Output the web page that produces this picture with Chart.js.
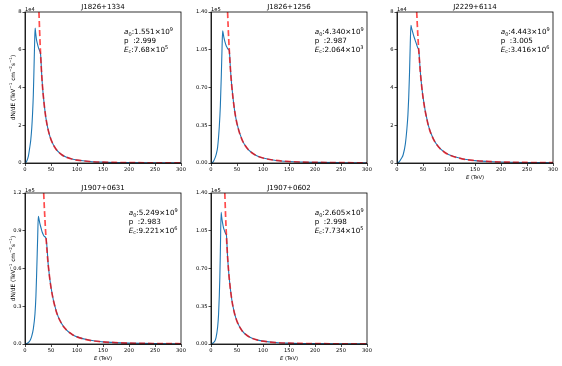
<!DOCTYPE html>
<html>
<head>
<meta charset="utf-8">
<script src="https://cdn.jsdelivr.net/npm/chart.js@4.4.1/dist/chart.umd.min.js"></script>
<style>
  body { margin: 0; background: #fff; }
  #fig { position: relative; width: 562px; height: 366px; overflow: hidden; }
  canvas { position: absolute; }
</style>
</head>
<body>
<div id="fig"></div>
<script>
const FONT = '"DejaVu Sans", sans-serif';

const panelNames = ["J1826+1334", "J1826+1256", "J2229+6114", "J1907+0631", "J1907+0602"];
const offsetTexts = ["1e4", "1e5", "1e4", "1e5", "1e5"];
const xTicks = [0, 50, 100, 150, 200, 250, 300];

// y ticks (values already divided by the offset)
const yTicksA = [0, 2, 4, 6, 8];
const yLabelsA = ["0", "2", "4", "6", "8"];
const yTicksB = [0, 0.35, 0.7, 1.05, 1.4];
const yLabelsB = ["0.00", "0.35", "0.70", "1.05", "1.40"];
const yTicksC = [0, 0.3, 0.6, 0.9, 1.2];
const yLabelsC = ["0.0", "0.3", "0.6", "0.9", "1.2"];

// fit parameters printed in each panel
const a0Vals = ["1.551", "4.340", "4.443", "5.249", "2.605"];
const pVals = ["2.999", "2.987", "3.005", "2.983", "2.998"];
const ecVals = ["7.68", "2.064", "3.416", "9.221", "7.734"];
const ecExps = ["5", "3", "6", "6", "5"];

// J1826+1334 (x1e4)
const blueE1 = [0, 3, 6.4, 9, 11, 13, 14.5, 16, 17.3, 18.6, 19.5, 20.5, 22, 24, 26, 28, 30, 32.5, 35, 40, 45, 50, 60, 70, 80, 90, 100, 125, 150, 175, 200, 250, 300];
const blueY1 = [0, 0.08, 0.35, 0.8, 1.2, 1.85, 2.6, 3.6, 5.0, 6.45, 7.15, 6.9, 6.55, 6.3, 6.1, 5.95, 5.74, 4.52, 3.62, 2.42, 1.70, 1.24, 0.72, 0.45, 0.30, 0.21, 0.155, 0.079, 0.046, 0.029, 0.019, 0.010, 0.006];
const redE1 = [26.85, 28, 30, 32.5, 35, 40, 45, 50, 60, 70, 80, 90, 100, 125, 150, 175, 200, 250, 300];
const redY1 = [8.0, 7.07, 5.74, 4.52, 3.62, 2.42, 1.70, 1.24, 0.718, 0.452, 0.303, 0.213, 0.155, 0.079, 0.046, 0.029, 0.019, 0.0099, 0.0057];

// J1826+1256 (x1e5)
const blueE2 = [0, 4, 8, 10, 12.8, 16, 18, 19.9, 21.2, 22.4, 23.5, 25, 27, 29, 31, 33, 35.2, 37.5, 40, 45, 50, 60, 70, 80, 90, 100, 125, 150, 175, 200, 250, 300];
const blueY2 = [0, 0.01, 0.05, 0.08, 0.15, 0.34, 0.53, 0.82, 1.06, 1.225, 1.2, 1.16, 1.12, 1.09, 1.07, 1.055, 1.04, 0.862, 0.711, 0.50, 0.365, 0.212, 0.134, 0.090, 0.063, 0.046, 0.0237, 0.0137, 0.0087, 0.0058, 0.0030, 0.0017];
const redE2 = [31.9, 33, 35.2, 37.5, 40, 45, 50, 60, 70, 80, 90, 100, 125, 150, 175, 200, 250, 300];
const redY2 = [1.40, 1.263, 1.042, 0.862, 0.711, 0.50, 0.365, 0.212, 0.134, 0.090, 0.063, 0.046, 0.0237, 0.0137, 0.0087, 0.0058, 0.0030, 0.0017];

// J2229+6114 (x1e4)
const blueE3 = [0, 4, 8, 12, 16, 19, 21, 22.5, 24, 25.5, 26.8, 28, 30, 32, 35, 38, 40, 41.75, 45, 50, 60, 70, 80, 90, 100, 125, 150, 175, 200, 250, 300];
const blueY3 = [0, 0.06, 0.22, 0.45, 1.0, 1.8, 2.55, 3.45, 4.7, 6.3, 7.3, 7.15, 6.95, 6.75, 6.5, 6.25, 6.1, 6.0, 4.78, 3.49, 2.02, 1.27, 0.85, 0.60, 0.434, 0.222, 0.128, 0.081, 0.054, 0.028, 0.016];
const redE3 = [37.9, 39, 40, 41.75, 45, 50, 60, 70, 80, 90, 100, 125, 150, 175, 200, 250, 300];
const redY3 = [8.0, 7.35, 6.815, 6.0, 4.783, 3.485, 2.015, 1.268, 0.849, 0.596, 0.434, 0.222, 0.128, 0.081, 0.054, 0.028, 0.016];

// J1907+0631 (x1e5)
const blueE4 = [0, 6, 10, 12.8, 16, 19.2, 21, 22.4, 23.5, 24.4, 25.6, 27, 29, 31, 33, 35, 37, 40.5, 45, 50, 60, 70, 80, 90, 100, 125, 150, 175, 200, 250, 300];
const blueY4 = [0, 0.01, 0.03, 0.06, 0.12, 0.24, 0.38, 0.56, 0.72, 0.85, 1.015, 0.99, 0.95, 0.92, 0.89, 0.87, 0.855, 0.84, 0.615, 0.449, 0.2605, 0.1645, 0.110, 0.078, 0.0567, 0.0292, 0.0169, 0.0107, 0.0072, 0.0037, 0.0021];
const redE4 = [35.95, 37, 38, 39, 40.5, 45, 50, 60, 70, 80, 90, 100, 125, 150, 175, 200, 250, 300];
const redY4 = [1.2, 1.10, 1.018, 0.94, 0.84, 0.615, 0.449, 0.2605, 0.1645, 0.110, 0.078, 0.0567, 0.0292, 0.0169, 0.0107, 0.0072, 0.0037, 0.0021];

// J1907+0602 (x1e5)
const blueE5 = [0, 4, 6.5, 9.7, 12.8, 14.5, 16, 17, 18, 19.5, 20.5, 22, 24, 26, 28, 29.6, 32, 35, 40, 45, 50, 60, 70, 80, 90, 100, 125, 150, 175, 200, 250, 300];
const blueY5 = [0, 0.01, 0.02, 0.06, 0.16, 0.27, 0.45, 0.62, 0.86, 1.22, 1.18, 1.13, 1.08, 1.05, 1.025, 1.01, 0.80, 0.612, 0.410, 0.288, 0.210, 0.1216, 0.0766, 0.0513, 0.0361, 0.0263, 0.0135, 0.0078, 0.0049, 0.0033, 0.0017, 0.0010];
const redE5 = [26.55, 28, 29.6, 32, 35, 40, 45, 50, 60, 70, 80, 90, 100, 125, 150, 175, 200, 250, 300];
const redY5 = [1.40, 1.195, 1.01, 0.80, 0.612, 0.410, 0.288, 0.210, 0.1216, 0.0766, 0.0513, 0.0361, 0.0263, 0.0135, 0.0078, 0.0049, 0.0033, 0.0017, 0.0010];

const blueEs = [blueE1, blueE2, blueE3, blueE4, blueE5];
const blueYs = [blueY1, blueY2, blueY3, blueY4, blueY5];
const redEs = [redE1, redE2, redE3, redE4, redE5];
const redYs = [redY1, redY2, redY3, redY4, redY5];
const yMaxes = [8, 1.4, 8, 1.2, 1.4];
const yTickSets = [yTicksA, yTicksB, yTicksA, yTicksC, yTicksB];
const yLabelSets = [yLabelsA, yLabelsB, yLabelsA, yLabelsC, yLabelsB];

// layout of the 2x3 grid
const canvasLeft = [0, 186, 372, 0, 186];
const canvasTop = [0, 0, 0, 181, 181];
const annotFrac = [0.635, 0.665, 0.665, 0.665, 0.665];

const toPts = (xs, ys) => xs.map((x, k) => ({ x: x, y: ys[k] }));

function richText(ctx, parts, x, y, size) {
  parts.forEach(([t, kind]) => {
    let fs = size, dy = 0, style = "";
    if (kind === "sub") { fs = size * 0.7; dy = size * 0.25; }
    if (kind === "sup") { fs = size * 0.7; dy = -size * 0.42; }
    if (kind === "i") style = "italic ";
    ctx.font = `${style}${fs}px ${FONT}`;
    ctx.fillText(t, x, y + dy);
    x += ctx.measureText(t).width;
  });
}

const panelText = {
  id: "panelText",
  afterDraw(chart, args, opts) {
    const i = opts.i;
    const { ctx, chartArea: a } = chart;
    ctx.save();
    // frame
    ctx.strokeStyle = "#000";
    ctx.lineWidth = 0.8;
    ctx.strokeRect(a.left, a.top, a.right - a.left, a.bottom - a.top);
    ctx.fillStyle = "#000";
    // title
    ctx.font = `7px ${FONT}`;
    ctx.textAlign = "center";
    ctx.textBaseline = "alphabetic";
    ctx.fillText(panelNames[i], (a.left + a.right) / 2, a.top - 3.5);
    // offset text
    ctx.textAlign = "left";
    ctx.font = `5.2px ${FONT}`;
    ctx.fillText(offsetTexts[i], a.left, a.top - 1.5);
    // fit parameters
    const tx = a.left + annotFrac[i] * (a.right - a.left);
    richText(ctx, [["a", "i"], ["0", "sub"], [":" + a0Vals[i] + "\u00d710", ""], ["9", "sup"]], tx, a.top + 22.3, 7.2);
    richText(ctx, [["p  :" + pVals[i], ""]], tx, a.top + 31, 7.2);
    richText(ctx, [["E", "i"], ["c", "sub"], [":" + ecVals[i] + "\u00d710", ""], [ecExps[i], "sup"]], tx, a.top + 39.6, 7.2);
    // x label
    if (i >= 2) {
      ctx.font = `5.2px ${FONT}`;
      const w = ctx.measureText("E (TeV)").width;
      richText(ctx, [["E", "i"], [" (TeV)", ""]], (a.left + a.right) / 2 - w / 2, a.bottom + 15.5, 5.2);
    }
    // y label
    if (i === 0 || i === 3) {
      ctx.translate(a.left - 12.5, (a.top + a.bottom) / 2);
      ctx.rotate(-Math.PI / 2);
      const lbl = [["dN/dE (TeV", ""], ["\u22121", "sup"], [" cm", ""], ["\u22122", "sup"], ["s", ""], ["\u22121", "sup"], [")", ""]];
      let w = 0;
      lbl.forEach(([t, k]) => {
        ctx.font = `${k === "sup" ? 5.8 * 0.7 : 5.8}px ${FONT}`;
        w += ctx.measureText(t).width;
      });
      richText(ctx, lbl, -w / 2, 2, 5.8);
    }
    ctx.restore();
  }
};

const fig = document.getElementById("fig");

panelNames.forEach((name, i) => {
  const canvas = document.createElement("canvas");
  canvas.width = 189;
  canvas.height = 183;
  canvas.style.left = canvasLeft[i] + "px";
  canvas.style.top = canvasTop[i] + "px";
  fig.appendChild(canvas);

  const tickFont = { family: FONT, size: 5.2 };

  new Chart(canvas, {
    type: "line",
    data: {
      datasets: [
        {
          data: toPts(redEs[i], redYs[i]),
          borderColor: "rgba(255, 0, 0, 0.7)",
          borderWidth: 1.7,
          borderDash: [6, 3],
          pointRadius: 0,
          cubicInterpolationMode: "monotone",
        },
        {
          data: toPts(blueEs[i], blueYs[i]),
          borderColor: "#1f77b4",
          borderWidth: 1.1,
          pointRadius: 0,
          cubicInterpolationMode: "monotone",
        },
      ],
    },
    options: {
      responsive: false,
      animation: false,
      devicePixelRatio: 1,
      layout: { padding: { top: 12, right: 8, left: 0, bottom: 0 } },
      plugins: {
        legend: { display: false },
        tooltip: { enabled: false },
        panelText: { i: i },
      },
      scales: {
        x: {
          type: "linear",
          min: 0,
          max: 300,
          afterBuildTicks: (s) => { s.ticks = xTicks.map((v) => ({ value: v })); },
          afterFit: (s) => { s.height = 20; s.paddingLeft = 0; s.paddingRight = 0; },
          ticks: { font: tickFont, color: "#000", padding: 0.5, maxRotation: 0, autoSkip: false, callback: (v) => String(v) },
          grid: { drawOnChartArea: false, tickLength: 3, color: "#000", lineWidth: 0.7 },
          border: { color: "#000", width: 0.8 },
        },
        y: {
          type: "linear",
          min: 0,
          max: yMaxes[i],
          afterBuildTicks: (s) => { s.ticks = yTickSets[i].map((v) => ({ value: v })); },
          afterFit: (s) => { s.width = 25; s.paddingTop = 0; s.paddingBottom = 0; },
          ticks: { font: tickFont, color: "#000", padding: 1, autoSkip: false, callback: (v, idx) => yLabelSets[i][idx] },
          grid: { drawOnChartArea: false, tickLength: 2.5, color: "#000", lineWidth: 0.7 },
          border: { color: "#000", width: 0.8 },
        },
      },
    },
    plugins: [panelText],
  });
});
</script>
</body>
</html>
